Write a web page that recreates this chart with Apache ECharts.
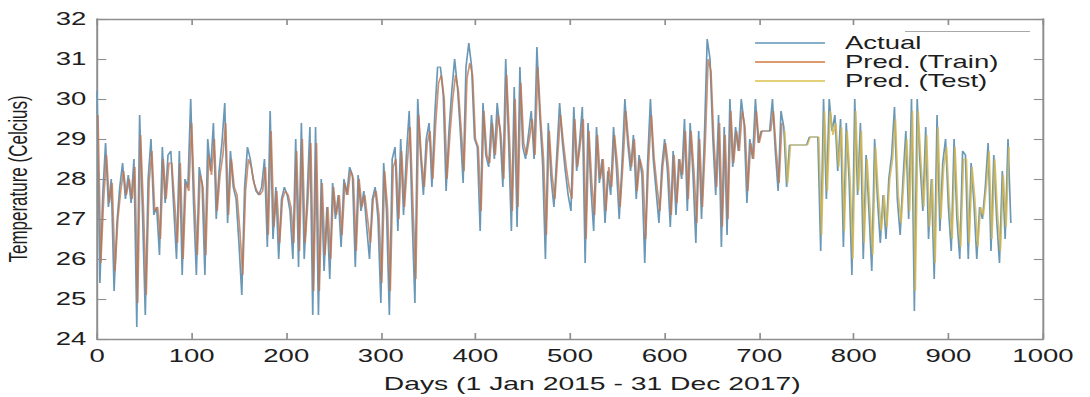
<!DOCTYPE html>
<html>
<head>
<meta charset="utf-8">
<script src="https://cdn.jsdelivr.net/npm/echarts@6/dist/echarts.min.js"></script>
<style>
html,body{margin:0;padding:0;background:#fff;overflow:hidden;width:1090px;height:397px;}
#c{position:absolute;left:0;top:0;width:712px;height:397px;transform:scaleX(1.5309);transform-origin:0 0;}
</style>
</head>
<body>
<div id="c"></div>
<script>
// Sampling: every 3rd day
const STEP = 3;
const ACTUAL_START = 0;
const TRAIN_START = 1;
const TEST_START = 727;

const xTicks = [0,100,200,300,400,500,600,700,800,900,1000];
const yTicks = [24,25,26,27,28,29,30,31,32];

const actual = [
30.2,25.4,27.6,28.9,27.3,28.0,25.2,26.9,27.8,28.4,
27.5,28.1,27.4,28.5,24.3,29.6,27.2,24.6,28.0,29.0,
27.1,27.3,26.1,28.8,27.4,28.6,28.7,27.3,26.0,28.7,
25.6,28.0,27.8,30.0,27.4,25.6,28.3,27.9,25.6,29.0,
28.2,29.4,27.0,28.2,28.9,29.9,26.9,28.7,27.8,27.5,
26.4,25.1,27.8,28.8,28.5,28.0,27.7,27.6,27.8,28.5,
26.3,29.7,26.5,27.8,26.0,27.5,27.8,27.6,27.2,26.0,
29.0,25.8,29.4,26.0,27.5,29.3,24.6,29.3,24.6,28.0,
25.7,27.3,25.5,27.9,27.0,27.6,26.3,28.0,27.6,28.3,
28.1,25.8,28.1,27.2,27.7,26.8,26.0,27.5,27.8,27.0,
24.9,28.4,27.2,24.6,28.5,28.8,26.7,29.0,27.1,28.6,
29.7,27.1,24.9,30.0,28.6,27.6,29.0,29.4,27.8,29.6,
30.8,30.8,30.1,27.7,29.2,30.2,31.0,30.3,29.2,27.9,
30.8,31.4,30.8,29.0,28.8,26.7,29.9,28.6,28.3,29.6,
28.5,29.9,29.2,27.8,31.0,29.0,26.7,30.3,26.8,30.8,
28.8,28.5,29.1,29.7,28.5,31.3,29.6,28.4,26.0,29.4,
28.0,27.3,28.6,29.9,28.9,28.2,27.6,27.2,29.8,28.2,
28.9,29.8,25.9,29.4,27.8,26.7,29.3,27.9,28.5,26.9,
28.2,27.6,29.3,28.3,27.0,28.4,30.0,28.9,28.2,29.1,
27.5,28.6,28.1,25.9,28.4,30.0,28.5,27.7,26.9,28.3,
29.0,28.2,26.8,28.7,27.1,28.5,28.0,29.5,27.2,29.4,
28.1,26.4,29.2,27.0,29.0,31.5,31.0,29.0,27.6,29.6,
26.3,29.3,26.6,30.0,28.3,29.3,28.7,30.0,29.4,27.4,
29.0,28.5,30.0,28.9,29.2,29.2,29.2,29.2,30.0,28.7,
27.7,29.7,29.3,27.8,28.85,28.85,28.85,28.85,28.85,28.85,
28.85,29.05,29.05,29.05,29.05,26.2,30.0,27.5,30.0,29.2,
29.6,28.2,29.5,26.3,29.4,28.0,25.6,30.0,27.6,29.4,
26.0,28.6,27.2,25.7,29.0,27.5,26.4,27.6,26.5,28.0,
28.6,29.8,27.5,26.6,28.0,29.2,27.0,30.0,24.7,30.0,
28.4,27.2,29.3,26.5,28.0,25.5,29.6,26.7,28.4,29.0,
27.3,26.2,29.0,27.0,26.0,28.7,28.6,26.0,28.4,27.4,
26.0,27.3,27.0,27.8,28.9,26.2,28.6,27.0,25.9,28.2,
26.5,29.0,26.9
];

const predTrain = [
29.6,25.9,27.5,28.6,27.4,27.9,25.7,27.0,27.7,28.2,
27.6,28.0,27.5,28.3,24.9,29.1,27.3,25.1,27.9,28.7,
27.2,27.3,26.5,28.5,27.5,28.4,28.4,27.4,26.4,28.4,
26.0,27.9,27.7,29.4,27.5,26.1,28.1,27.8,26.1,28.6,
28.1,29.0,27.2,28.1,28.6,29.4,27.1,28.5,27.8,27.6,
26.7,25.6,27.7,28.5,28.3,27.9,27.7,27.6,27.7,28.3,
26.6,29.2,26.8,27.7,26.4,27.5,27.7,27.6,27.3,26.4,
28.7,26.2,29.0,26.4,27.5,28.9,25.2,28.9,25.2,27.9,
26.1,27.3,26.0,27.8,27.1,27.6,26.6,27.9,27.6,28.2,
28.0,26.2,28.0,27.3,27.6,27.0,26.4,27.5,27.7,27.1,
25.4,28.2,27.3,25.2,28.3,28.5,27.0,28.7,27.3,28.4,
29.3,27.3,25.5,29.6,28.5,27.8,28.9,29.2,28.0,29.4,
30.4,30.6,30.0,28.0,29.1,30.0,30.6,30.2,29.2,28.2,
30.5,30.9,30.6,29.0,28.8,27.2,29.7,28.6,28.4,29.4,
28.6,29.6,29.1,28.0,30.6,29.0,27.2,30.0,27.3,30.4,
28.9,28.6,29.0,29.5,28.6,30.8,29.5,28.5,26.6,29.2,
28.1,27.5,28.6,29.6,28.9,28.3,27.8,27.5,29.5,28.3,
28.9,29.5,26.5,29.2,27.9,27.1,29.1,28.0,28.5,27.2,
28.3,27.8,29.1,28.4,27.3,28.4,29.7,28.9,28.3,29.0,
27.7,28.5,28.2,26.5,28.4,29.6,28.5,27.8,27.2,28.3,
28.9,28.3,27.1,28.6,27.4,28.5,28.1,29.2,27.5,29.2,
28.2,26.9,29.0,27.3,28.9,31.0,30.7,29.0,27.8,29.4,
26.8,29.1,27.0,29.7,28.4,29.2,28.7,29.7,29.3,27.7,
28.9,28.5,29.7,28.9,29.2,29.2,29.2,29.2,29.7,28.7,
27.9,29.4
];

const predTest = [
29.2,27.9,28.85,28.85,28.85,28.85,28.85,28.85,
28.85,29.05,29.05,29.05,29.05,26.6,29.7,27.7,29.7,29.1,
29.4,28.3,29.3,26.7,29.2,28.0,26.0,29.7,27.7,29.2,
26.4,28.5,27.3,26.1,28.8,27.6,26.7,27.6,26.8,28.0,
28.5,29.5,27.6,26.9,28.0,29.0,27.2,29.7,25.2,29.7,
28.4,27.3,29.1,26.8,28.0,25.9,29.3,27.0,28.3,28.8,
27.4,26.5,28.8,27.1,26.3,28.5,28.5,26.4,28.3,27.5,
26.3,27.3,27.1,27.8,28.7,26.5,28.5,27.1,26.2,28.1,
26.8,28.8
];

function pairs(start, arr){ return arr.map((v,i)=>[start+i*STEP, v]); }

const FONT = 'Liberation Sans, Arial, sans-serif';
const AXC = '#8e8e8e';
const TXT = '#1e1e1e';
const chart = echarts.init(document.getElementById('c'), null, {renderer:'svg', width:712, height:397});

function axisCommon(showLabel){
  return {
    axisLine:{show:true, onZero:false, lineStyle:{color:AXC, width:1.3}},
    axisTick:{show:true, inside:true, length:6, lineStyle:{color:AXC, width:1.1}},
    splitLine:{show:false},
    axisLabel:{show:showLabel, color:TXT, fontSize:18, fontFamily:FONT}
  };
}

chart.setOption({
  animation:false,
  backgroundColor:'#fff',
  grid:{left:63.4, right:30.7, top:19, bottom:58, containLabel:false, outerBoundsMode:'none'},
  legend:{
    orient:'vertical', left:488.2, top:29, padding:5,
    icon:'rect', itemWidth:45.7, itemHeight:1.6, itemGap:1,
    textStyle:{color:TXT, fontSize:18, fontFamily:FONT, lineHeight:18, padding:[0,0,0,8]},
    data:['Actual','Pred. (Train)','Pred. (Test)']
  },
  xAxis:[
    Object.assign(axisCommon(true), {
      type:'value', min:xTicks[0], max:xTicks[xTicks.length-1], interval:100,
      name:'Days (1 Jan 2015 - 31 Dec 2017)', nameLocation:'middle', nameGap:35,
      nameTextStyle:{color:TXT, fontSize:18.5, fontFamily:FONT, padding:[0,0,0,29]},
      axisLabel:{show:true, color:TXT, fontSize:18, fontFamily:FONT, margin:8, formatter:(v)=>String(v)}
    }),
    Object.assign(axisCommon(false), {
      type:'value', position:'top', min:xTicks[0], max:xTicks[xTicks.length-1], interval:100
    })
  ],
  yAxis:[
    Object.assign(axisCommon(true), {
      type:'value', min:yTicks[0], max:yTicks[yTicks.length-1], interval:1,
      name:'Temperature (Celcius)', nameLocation:'middle', nameGap:43,
      nameTextStyle:{color:TXT, fontSize:17, fontFamily:FONT},
      axisLabel:{show:true, color:TXT, fontSize:18, fontFamily:FONT, margin:7, formatter:(v)=>String(v)}
    }),
    Object.assign(axisCommon(false), {
      type:'value', position:'right', min:yTicks[0], max:yTicks[yTicks.length-1], interval:1
    })
  ],
  graphic:[{
    type:'line', shape:{x1:591.2, y1:31.5, x2:672.8, y2:31.5},
    style:{stroke:'#a8a8a8', lineWidth:1.2}, silent:true
  }],
  series:[
    {name:'Actual', type:'line', symbol:'none', data:pairs(ACTUAL_START, actual),
     lineStyle:{color:'#6b98b6', width:1.1}, itemStyle:{color:'#5d95ba'}},
    {name:'Pred. (Train)', type:'line', symbol:'none', data:pairs(TRAIN_START, predTrain),
     lineStyle:{color:'#c07550', width:1.1, opacity:0.8}, itemStyle:{color:'#d0783f'}},
    {name:'Pred. (Test)', type:'line', symbol:'none', data:pairs(TEST_START, predTest),
     lineStyle:{color:'#d3b650', width:1.1, opacity:0.85}, itemStyle:{color:'#d8bf4a'}}
  ]
});
</script>
</body>
</html>
